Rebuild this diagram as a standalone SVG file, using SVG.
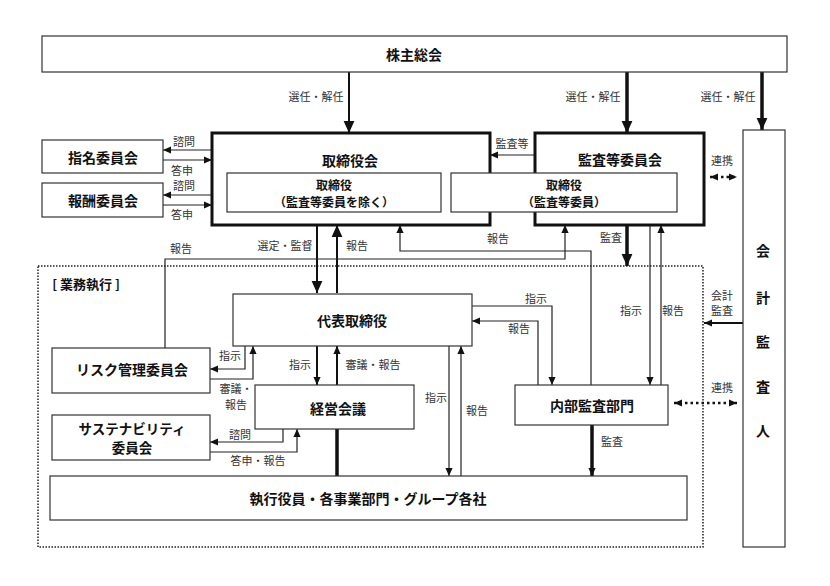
<svg xmlns="http://www.w3.org/2000/svg" width="830" height="586" viewBox="0 0 830 586">
<defs>
<style>
.box{fill:#fff;stroke:#333;stroke-width:1.2}
.tbox{fill:#fff;stroke:#111;stroke-width:3}
.t{font-family:"Noto Sans CJK JP","Noto Sans",sans-serif;font-weight:bold;font-size:14px;fill:#111;text-anchor:middle;dominant-baseline:central}
.l{font-family:"Noto Sans CJK JP","Noto Sans",sans-serif;font-size:11px;fill:#333;text-anchor:middle;dominant-baseline:central}
.c{fill:none;stroke:#222;stroke-width:1.2}
.k{fill:none;stroke:#111;stroke-width:3.5}
.m{fill:none;stroke:#111;stroke-width:2}
.d{fill:none;stroke:#111;stroke-width:2.5;stroke-dasharray:2.5 3}
</style>
<marker id="a" viewBox="0 0 10 10" refX="10" refY="5" markerWidth="8" markerHeight="8" markerUnits="userSpaceOnUse" orient="auto"><path d="M0,0.5 L10,5 L0,9.5 z" fill="#111"/></marker>
<marker id="b" viewBox="0 0 10 10" refX="10" refY="5" markerWidth="12" markerHeight="12" markerUnits="userSpaceOnUse" orient="auto"><path d="M0,0.5 L10,5 L0,9.5 z" fill="#111"/></marker>
<marker id="as" viewBox="0 0 10 10" refX="0" refY="5" markerWidth="8" markerHeight="8" markerUnits="userSpaceOnUse" orient="auto"><path d="M10,0.5 L0,5 L10,9.5 z" fill="#111"/></marker>
</defs>
<rect width="830" height="586" fill="#fff"/>

<g id="gyomu">
<rect x="38" y="266" width="665" height="281" fill="none" stroke="#222" stroke-width="1.5" stroke-dasharray="1.5 1.5"/>
<text x="86" y="283" class="t" style="font-size:13px">[ 業務執行 ]</text>
</g>

<g id="connectors">
<path class="m" d="M349,72 V133" marker-end="url(#b)"/>
<path class="k" d="M627,72 V133" marker-end="url(#b)"/>
<path class="k" d="M762,72 V130" marker-end="url(#b)"/>
<path class="c" d="M535,155 H490" marker-end="url(#a)"/>
<path class="d" d="M710,177 H737" marker-start="url(#as)" marker-end="url(#a)"/>
<path class="m" d="M743,323 H704" marker-end="url(#a)"/>
<path class="d" d="M674,403 H737" marker-start="url(#as)" marker-end="url(#a)"/>
<path class="m" d="M317,225 V293" marker-end="url(#b)"/>
<path class="m" d="M337,293 V225" marker-end="url(#b)"/>
<path class="c" d="M591,385 V251 H400 V225" marker-end="url(#a)"/>
<path class="c" d="M165,348 V259 H565 V225" marker-end="url(#a)"/>
<path class="k" d="M627,225 V266" marker-end="url(#b)"/>
<path class="c" d="M650,225 V385" marker-end="url(#a)"/>
<path class="c" d="M661,385 V225" marker-end="url(#a)"/>
<path class="c" d="M472,306 H552 V385" marker-end="url(#a)"/>
<path class="c" d="M538,385 V321 H472" marker-end="url(#a)"/>
<path class="c" d="M449,346 V476" marker-end="url(#a)"/>
<path class="c" d="M461,476 V346" marker-end="url(#a)"/>
<path class="m" d="M317,346 V385" marker-end="url(#a)"/>
<path class="m" d="M337,385 V346" marker-end="url(#a)"/>
<path class="k" d="M337,429 V476"/>
<path class="k" d="M592,425 V476" marker-end="url(#a)"/>
<path class="c" d="M245,346 V369 H210" marker-end="url(#a)"/>
<path class="c" d="M210,379 H253 V346" marker-end="url(#a)"/>
<path class="c" d="M283,429 V442 H210" marker-end="url(#a)"/>
<path class="c" d="M210,452 H297 V429" marker-end="url(#a)"/>
<path class="c" d="M212,150 H163" marker-end="url(#a)"/>
<path class="c" d="M163,160 H212" marker-end="url(#a)"/>
<path class="c" d="M212,195 H163" marker-end="url(#a)"/>
<path class="c" d="M163,205 H212" marker-end="url(#a)"/>
</g>

<g id="labels">
<text class="l" x="316" y="96">選任・解任</text>
<text class="l" x="593" y="96">選任・解任</text>
<text class="l" x="728" y="96">選任・解任</text>
<text class="l" x="512" y="143">監査等</text>
<text class="l" x="722" y="160">連携</text>
<text class="l" x="184" y="141">諮問</text>
<text class="l" x="182" y="170">答申</text>
<text class="l" x="184" y="185">諮問</text>
<text class="l" x="182" y="214">答申</text>
<text class="l" x="181" y="248">報告</text>
<text class="l" x="285" y="245">選定・監督</text>
<text class="l" x="357" y="245">報告</text>
<text class="l" x="498" y="238">報告</text>
<text class="l" x="611" y="237">監査</text>
<text class="l" x="536" y="298">指示</text>
<text class="l" x="519" y="328">報告</text>
<text class="l" x="631" y="310">指示</text>
<text class="l" x="673" y="310">報告</text>
<text class="l" x="722" y="295">会計</text>
<text class="l" x="722" y="310">監査</text>
<text class="l" x="722" y="387">連携</text>
<text class="l" x="230" y="355">指示</text>
<text class="l" x="236" y="388">審議・</text>
<text class="l" x="236" y="404">報告</text>
<text class="l" x="300" y="364">指示</text>
<text class="l" x="373" y="364">審議・報告</text>
<text class="l" x="436" y="397">指示</text>
<text class="l" x="477" y="410">報告</text>
<text class="l" x="240" y="434">諮問</text>
<text class="l" x="258" y="460">答申・報告</text>
<text class="l" x="612" y="441">監査</text>
</g>

<g id="kabunushi"><rect class="box" x="42" y="36" width="745" height="36"/><text class="t" x="414" y="54">株主総会</text></g>
<g id="torishimariyakukai"><rect class="tbox" x="212" y="133" width="278" height="92"/><text class="t" x="350" y="160">取締役会</text></g>
<g id="kansatouiinkai"><rect class="tbox" x="535" y="133" width="169" height="92"/><text class="t" x="620" y="159">監査等委員会</text></g>
<g id="torishimariyaku1"><rect class="box" x="227" y="173" width="214" height="39"/><text class="t" x="334" y="184" style="font-size:12px">取締役</text><text class="t" x="334" y="201" style="font-size:12px">（監査等委員を除く）</text></g>
<g id="torishimariyaku2"><rect class="box" x="451" y="173" width="226" height="39"/><text class="t" x="564" y="184" style="font-size:12px">取締役</text><text class="t" x="564" y="201" style="font-size:12px">（監査等委員）</text></g>
<g id="shimei"><rect class="box" x="42" y="140" width="121" height="33"/><text class="t" x="103" y="157">指名委員会</text></g>
<g id="houshuu"><rect class="box" x="42" y="183" width="121" height="34"/><text class="t" x="103" y="200">報酬委員会</text></g>
<g id="kaikeikansanin"><rect class="box" x="743" y="130" width="42" height="417"/>
<text class="t" x="763" y="250">会</text><text class="t" x="763" y="297">計</text><text class="t" x="763" y="341">監</text><text class="t" x="763" y="386">査</text><text class="t" x="763" y="430">人</text></g>
<g id="daihyou"><rect class="box" x="233" y="294" width="239" height="52"/><text class="t" x="352" y="320">代表取締役</text></g>
<g id="risk"><rect class="box" x="52" y="348" width="158" height="45"/><text class="t" x="132" y="369">リスク管理委員会</text></g>
<g id="keiei"><rect class="box" x="255" y="385" width="159" height="44"/><text class="t" x="338" y="408">経営会議</text></g>
<g id="naibu"><rect class="box" x="515" y="385" width="153" height="40"/><text class="t" x="592" y="405">内部監査部門</text></g>
<g id="sustain"><rect class="box" x="52" y="415" width="158" height="45"/><text class="t" x="132" y="428" style="font-size:13.5px">サステナビリティ</text><text class="t" x="132" y="447" style="font-size:13.5px">委員会</text></g>
<g id="shikkou"><rect class="box" x="50" y="476" width="637" height="44"/><text class="t" x="368" y="498">執行役員・各事業部門・グループ各社</text></g>
</svg>
